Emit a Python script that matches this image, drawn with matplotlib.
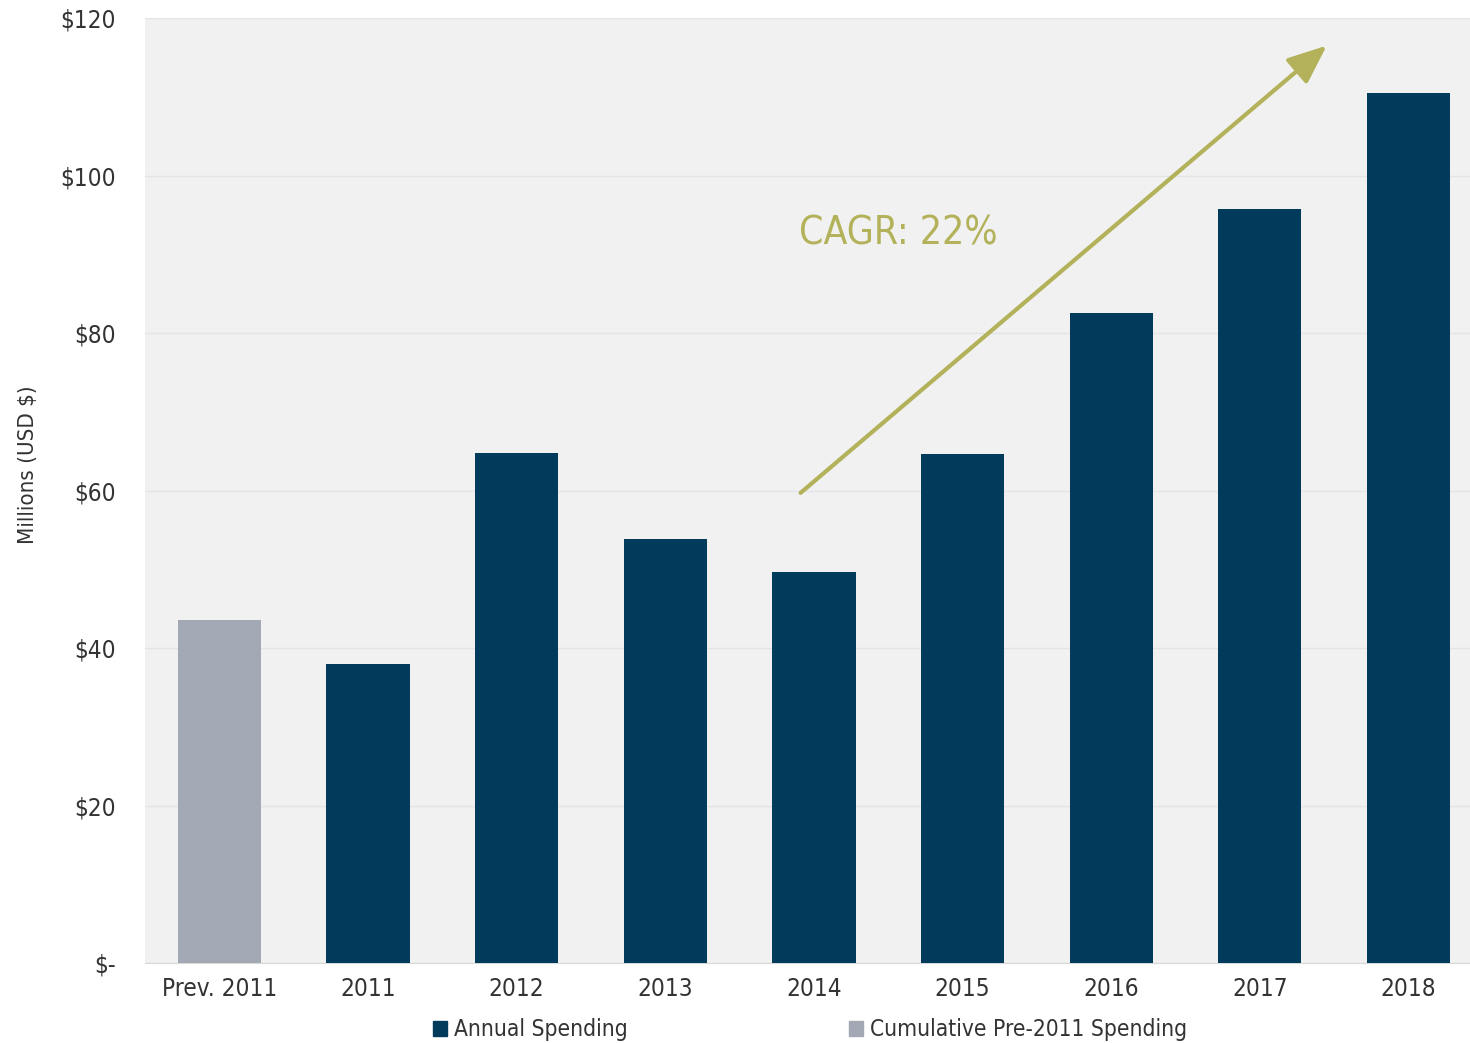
import matplotlib.pyplot as plt
from matplotlib.patches import Patch

plt.rcParams['font.family'] = ['DejaVu Sans']
plt.rcParams['font.stretch'] = 'condensed'

categories = ["Prev. 2011", "2011", "2012", "2013", "2014", "2015", "2016", "2017", "2018"]
spending = [43.6, 38.0, 64.8, 53.8, 49.7, 64.6, 82.5, 95.7, 110.5]
yticks = [0, 20, 40, 60, 80, 100, 120]
ytick_labels = ["$-", "$20", "$40", "$60", "$80", "$100", "$120"]

navy = "#003B5C"
gray = "#A2A9B5"
olive = "#B3B25A"
text_col = "#333333"

colors = [gray] + [navy] * (len(categories) - 1)

fig = plt.figure(figsize=(14.7, 10.43), dpi=100)
ax = fig.add_axes([0.0986, 0.0767, 0.9014, 0.906])
ax.set_facecolor("#F1F1F1")

x = range(len(categories))
ax.bar(x, spending, width=0.56, color=colors, zorder=3)

ax.set_ylim(0, 120)
ax.set_xlim(-0.501, 8.414)
ax.set_yticks(yticks)
ax.set_yticklabels(ytick_labels)
ax.set_xticks(list(x))
ax.set_xticklabels(categories)
ax.grid(axis="y", color="#E2E5E8", linewidth=1, zorder=0)
ax.tick_params(length=0, labelsize=17.5, colors=text_col)
ax.tick_params(axis="y", pad=21)
ax.tick_params(axis="x", pad=10)
for s in ["top", "right", "left"]:
    ax.spines[s].set_visible(False)
ax.spines["bottom"].set_color("#D9D9D9")
ax.set_ylabel("Millions (USD $)", fontsize=16, color=text_col)
ax.yaxis.set_label_coords(-0.081, 0.527)

# growth arrow
ax.annotate("", xy=(7.45, 116.5), xytext=(3.91, 59.7),
            arrowprops=dict(arrowstyle="-|>,head_length=2.4,head_width=1.0",
                            color=olive, lw=3, shrinkA=0, shrinkB=0), zorder=4)
ax.text(4.57, 92.7, "CAGR: 22%", fontsize=28, color=olive, ha="center", va="center")

handles = [Patch(color=navy, label="Annual Spending"),
           Patch(color=gray, label="Cumulative Pre-2011 Spending")]
fig.legend(handles=handles, loc="center", bbox_to_anchor=(0.551, 0.0125), ncol=2,
           frameon=False, fontsize=16.3, handlelength=0.6, handleheight=0.6,
           handletextpad=0.3, columnspacing=9.8, labelcolor=text_col)

fig.savefig("out.png", dpi=100)
